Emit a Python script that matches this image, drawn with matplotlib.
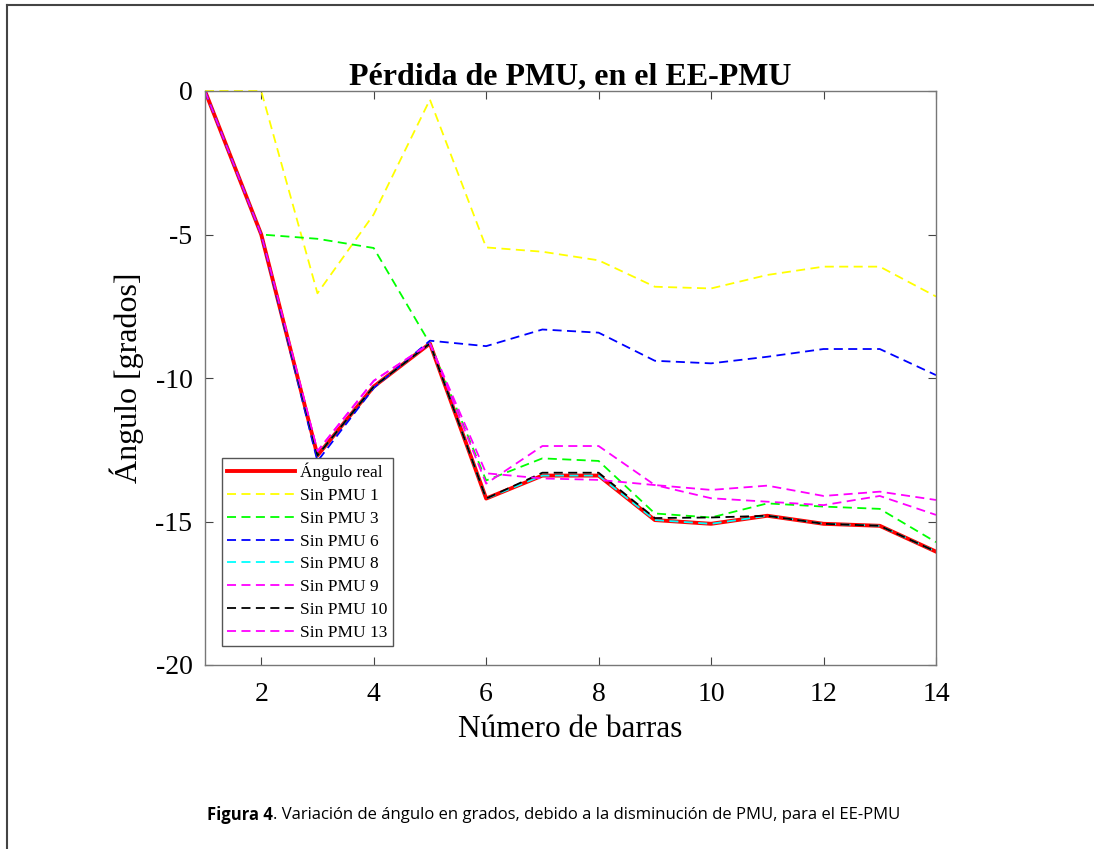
import matplotlib
matplotlib.use("Agg")
import matplotlib.pyplot as plt
from matplotlib.lines import Line2D

plt.rcParams['font.family'] = ['Liberation Serif', 'DejaVu Serif']
plt.rcParams['axes.unicode_minus'] = False

barras = list(range(1, 15))
angulo_real = [0, -5.0, -12.7, -10.3, -8.8, -14.2, -13.4, -13.4, -14.95, -15.08, -14.8, -15.08, -15.15, -16.05]
sin_pmu_1 = [0, 0.0, -7.05, -4.3, -0.3, -5.45, -5.6, -5.9, -6.82, -6.88, -6.41, -6.12, -6.12, -7.16]
sin_pmu_3 = [0, -5.0, -5.15, -5.47, -8.8, -13.57, -12.8, -12.89, -14.72, -14.86, -14.37, -14.48, -14.56, -15.72]
sin_pmu_6 = [0, -5.0, -12.9, -10.35, -8.7, -8.89, -8.31, -8.42, -9.40, -9.49, -9.26, -8.99, -8.99, -9.90]
sin_pmu_8 = [0, -5.0, -12.7, -10.3, -8.8, -14.2, -13.4, -13.4, -14.95, -15.08, -14.8, -15.08, -15.15, -16.05]
sin_pmu_9 = [0, -5.0, -12.55, -10.1, -8.8, -13.68, -12.37, -12.37, -13.73, -13.90, -13.75, -14.11, -13.96, -14.25]
sin_pmu_10 = [0, -5.0, -12.7, -10.3, -8.8, -14.2, -13.3, -13.3, -14.88, -14.86, -14.8, -15.08, -15.15, -16.05]
sin_pmu_13 = [0, -5.0, -12.55, -10.1, -8.8, -13.32, -13.5, -13.55, -13.73, -14.19, -14.31, -14.43, -14.11, -14.77]

fig = plt.figure(figsize=(10.94, 8.49), dpi=100)
ax = fig.add_axes([205/1094, 184/849, 731/1094, 574/849])

dash = (0, (5, 3))
ax.plot(barras, angulo_real, color='#ff0000', lw=2.8, label='Ángulo real')
ax.plot(barras, sin_pmu_1, color='#ffff00', lw=1.3, ls=dash, label='Sin PMU 1', clip_on=False)
ax.plot(barras, sin_pmu_3, color='#00ff00', lw=1.3, ls=dash, label='Sin PMU 3')
ax.plot(barras, sin_pmu_6, color='#0000ff', lw=1.3, ls=dash, label='Sin PMU 6')
ax.plot(barras, sin_pmu_8, color='#00ffff', lw=1.3, ls=dash, label='Sin PMU 8')
ax.plot(barras, sin_pmu_9, color='#ff00ff', lw=1.3, ls=dash, label='Sin PMU 9')
ax.plot(barras, sin_pmu_10, color='#000000', lw=1.3, ls=dash, label='Sin PMU 10')
ax.plot(barras, sin_pmu_13, color='#ff00ff', lw=1.3, ls=dash, label='Sin PMU 13')

ax.set_xlim(1, 14)
ax.set_ylim(-20, 0)
ax.set_xticks([2, 4, 6, 8, 10, 12, 14])
ax.set_yticks([0, -5, -10, -15, -20])
ax.tick_params(direction='in', top=True, right=True, labelsize=20, length=6,
               color='#444444')
ax.tick_params(axis='x', pad=12)
ax.tick_params(axis='y', pad=9)
for s in ax.spines.values():
    s.set_color('#777777')
    s.set_linewidth(1.0)

ax.set_xlabel('Número de barras', fontsize=22.5, labelpad=6)
ax.set_ylabel('Ángulo [grados]', fontsize=23, labelpad=8)
ax.set_title('Pérdida de PMU, en el EE-PMU', fontsize=23, fontweight='bold', pad=5)

leg = ax.legend(loc='upper left', bbox_to_anchor=(0.023, 0.361), borderaxespad=0,
                fontsize=12.5, handlelength=3.9, handletextpad=0.3, labelspacing=0.38,
                fancybox=False, framealpha=1, edgecolor='#555555', borderpad=0.3)
leg.get_frame().set_linewidth(1.0)

# marco de la figura y pie
fig.add_artist(Line2D([7/1094, 7/1094], [0, 1 - 5/849], color='#444444', lw=1.5))
fig.add_artist(Line2D([7/1094, 1], [1 - 5/849, 1 - 5/849], color='#444444', lw=1.5))

yc = 1 - 815/849
t1 = fig.text(0, yc, 'Figura 4', fontsize=12, fontweight='bold',
              family='Open Sans', ha='left', va='center')
t2 = fig.text(0, yc, '. Variación de ángulo en grados, debido a la disminución de PMU, para el EE-PMU',
              fontsize=12, family='Open Sans', ha='left', va='center')
r = fig.canvas.get_renderer()
w1 = t1.get_window_extent(r).width / 1094
w2 = t2.get_window_extent(r).width / 1094
x0 = 554/1094 - (w1 + w2) / 2
t1.set_x(x0)
t2.set_x(x0 + w1)

plt.savefig('out.png', dpi=100)
